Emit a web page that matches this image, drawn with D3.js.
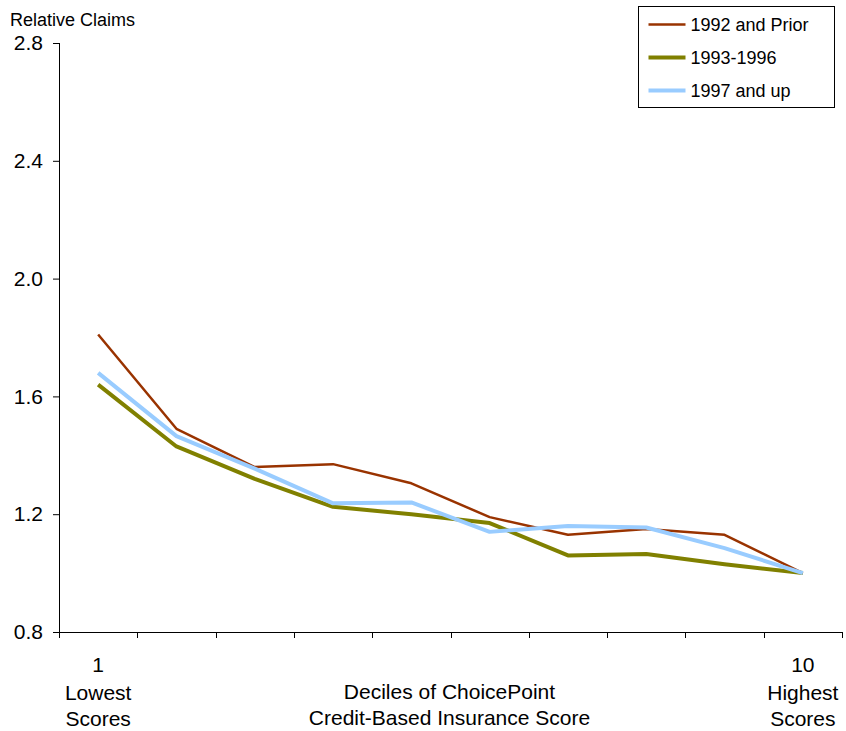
<!DOCTYPE html>
<html>
<head>
<meta charset="utf-8">
<script src="https://cdn.jsdelivr.net/npm/d3@7"></script>
<style>
  html, body { margin: 0; padding: 0; background: #fff; }
  svg { display: block; font-family: "Liberation Sans", Arial, sans-serif; }
</style>
</head>
<body>
<svg id="chart" width="846" height="731"></svg>
<script>
// Deciles of credit-based insurance score (1 = lowest, 10 = highest)
const deciles = [1, 2, 3, 4, 5, 6, 7, 8, 9, 10];

// Relative claims by vehicle model year group
const prior1992 = [1.81, 1.49, 1.36, 1.37, 1.305, 1.19, 1.13, 1.15, 1.13, 1.00];
const mid1993to1996 = [1.64, 1.43, 1.32, 1.225, 1.20, 1.17, 1.06, 1.065, 1.03, 1.00];
const after1997 = [1.68, 1.465, 1.355, 1.237, 1.24, 1.14, 1.16, 1.155, 1.085, 1.00];

const seriesNames = ["1992 and Prior", "1993-1996", "1997 and up"];
const yTicks = [0.8, 1.2, 1.6, 2.0, 2.4, 2.8];

const series = [
  { name: seriesNames[0], values: prior1992, color: "#993300", width: 2.5 },
  { name: seriesNames[1], values: mid1993to1996, color: "#808000", width: 4 },
  { name: seriesNames[2], values: after1997, color: "#99ccff", width: 4 }
];

const svg = d3.select("#chart");
const plotLeft = 59, plotRight = 842, plotTop = 43, plotBottom = 632;

const x = d3.scaleBand().domain(deciles).range([plotLeft, plotRight]);
const y = d3.scaleLinear().domain([0.8, 2.8]).range([plotBottom, plotTop]);

const textColor = "#000";
const axisFont = 21;
const smallFont = 18;

// Y axis
const yAxis = svg.append("g")
  .attr("transform", `translate(${plotLeft},0)`)
  .call(d3.axisLeft(y).tickValues(yTicks).tickSize(6).tickPadding(10)
    .tickFormat(d3.format(".1f")));
yAxis.select(".domain").attr("stroke", "#000").attr("d", `M0.5,${plotTop}V${plotBottom}`);
yAxis.selectAll(".tick line").attr("stroke", "#000");
yAxis.selectAll(".tick text").attr("font-size", axisFont).attr("fill", textColor)
  .attr("font-family", "Liberation Sans, Arial, sans-serif");

// X axis line and band boundary ticks
const xg = svg.append("g");
xg.append("line")
  .attr("x1", plotLeft).attr("x2", plotRight)
  .attr("y1", plotBottom + 0.5).attr("y2", plotBottom + 0.5)
  .attr("stroke", "#000");
const edges = deciles.map(d => x(d)).concat([x.range()[1]]);
xg.selectAll("line.edge").data(edges).join("line")
  .attr("class", "edge")
  .attr("x1", d => Math.round(d) + 0.5).attr("x2", d => Math.round(d) + 0.5)
  .attr("y1", plotBottom).attr("y2", plotBottom + 6)
  .attr("stroke", "#000");

// Category labels at the extremes only, plus the axis title in the middle
const firstX = x(deciles[0]) + x.bandwidth() / 2;
const lastX = x(deciles[deciles.length - 1]) + x.bandwidth() / 2;
const midX = (plotLeft + plotRight) / 2;
const xLabels = [
  { x: firstX, y: 672, t: String(deciles[0]) },
  { x: firstX, y: 700, t: "Lowest" },
  { x: firstX, y: 726, t: "Scores" },
  { x: lastX, y: 672, t: String(deciles[deciles.length - 1]) },
  { x: lastX, y: 700, t: "Highest" },
  { x: lastX, y: 726, t: "Scores" },
  { x: midX - 1, y: 699, t: "Deciles of ChoicePoint" },
  { x: midX - 1, y: 725, t: "Credit-Based Insurance Score" }
];
svg.append("g").selectAll("text").data(xLabels).join("text")
  .attr("x", d => d.x).attr("y", d => d.y)
  .attr("text-anchor", "middle")
  .attr("font-size", axisFont).attr("fill", textColor)
  .text(d => d.t);

// Y axis title
svg.append("text")
  .attr("x", 10).attr("y", 26)
  .attr("font-size", smallFont).attr("fill", textColor)
  .text("Relative Claims");

// Lines
const line = d3.line()
  .x((d, i) => x(deciles[i]) + x.bandwidth() / 2)
  .y(d => y(d));

svg.append("g").selectAll("path").data(series).join("path")
  .attr("fill", "none")
  .attr("stroke", d => d.color)
  .attr("stroke-width", d => d.width)
  .attr("stroke-linejoin", "round")
  .attr("d", d => line(d.values));

// Legend
const legend = svg.append("g").attr("transform", "translate(638.5,6.5)");
legend.append("rect")
  .attr("width", 196).attr("height", 101)
  .attr("fill", "#fff").attr("stroke", "#000");
const items = legend.selectAll("g.item").data(series).join("g")
  .attr("class", "item")
  .attr("transform", (d, i) => `translate(0,${18 + i * 33})`);
items.append("line")
  .attr("x1", 10).attr("x2", 47)
  .attr("stroke", d => d.color)
  .attr("stroke-width", d => d.width);
items.append("text")
  .attr("x", 52).attr("y", 6.5)
  .attr("font-size", smallFont).attr("fill", textColor)
  .text(d => d.name);
</script>
</body>
</html>
